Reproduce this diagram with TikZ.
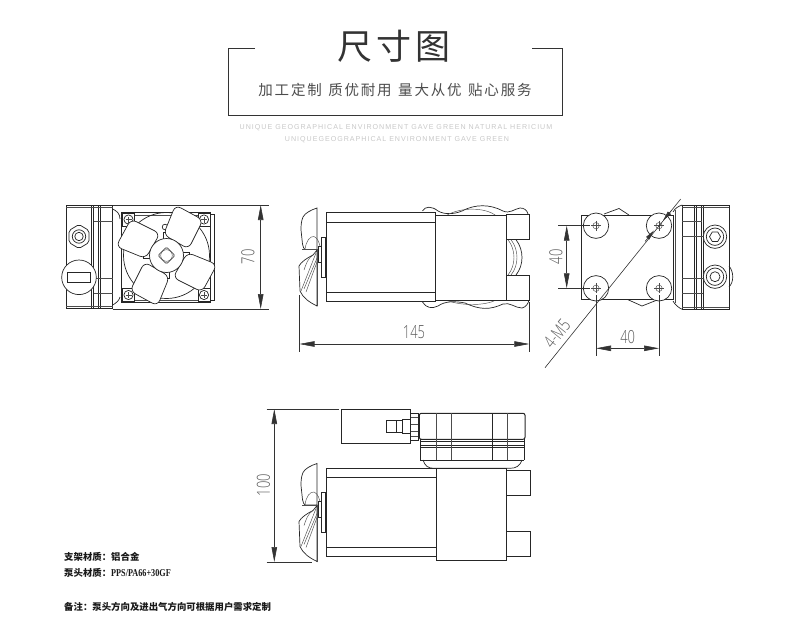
\documentclass[tikz,border=0pt]{standalone}
\usepackage{fontspec}
\usepackage{tikz}
\usetikzlibrary{arrows.meta}
\usetikzlibrary{calc}
\setmainfont{Liberation Sans}
\newfontfamily\cjk{Noto Sans CJK SC}
\newfontfamily\cjkwide[LetterSpace=12.5]{Noto Sans CJK SC}
\newfontfamily\notelatin{Liberation Serif}
\newfontfamily\greytext[LetterSpace=14]{Liberation Sans}
\newfontfamily\dimfont{Open Sans Light}
\newcommand{\dimtext}[1]{\scalebox{.72}[1]{\dimfont\fontsize{18}{18}\selectfont #1}}

\tikzset{
    partline/.style={draw=black!85, line width=0.7pt},
    thinline/.style={draw=black!70, line width=0.45pt},
    extline/.style={draw=black!80, line width=0.6pt},
    dimline/.style={draw=black!80, line width=0.6pt, {Triangle[length=15pt,width=5.5pt]}-{Triangle[length=15pt,width=5.5pt]}},
    dimlabel/.style={text=black!65, inner sep=0pt},
    noteline/.style={anchor=west, inner sep=0pt, text=black!90, font=\cjk\bfseries\fontsize{9.4}{10}\selectfont},
    fanside/.pic={
        \draw[partline, fill=white] (18,0) .. controls (12,2) and (6,5) .. (4,9) .. controls (2,14) and (2,18) .. (2,22) -- (3.5,36) .. controls (4,39) and (5,41) .. (6,41.5) -- (18,41.5) -- cycle;
        \draw[partline, fill=white] (18,98) .. controls (10,94) and (4,90) .. (1,83) -- (0,58) .. controls (2,54) and (8,50) .. (14,47) -- (18,42) -- cycle;
        \draw[thinline] (6,41.5) .. controls (7,33) and (11,28) .. (15,28.5) .. controls (19,30) and (21,36) .. (21.5,41.5);
        \draw[thinline] (3,41.5) -- (21.5,41.5);
        \draw[thinline] (21,43) -- (5,81) (17,45) -- (2,83) (18,54) -- (7,84) (14,47) .. controls (9,50) and (7,56) .. (5,62);
        \draw[thinline] (18,42) -- (18,98);
        \draw[partline, fill=white] (19,38) rectangle (22,54);
        \draw[partline, fill=white] (22,29) rectangle (26.5,69);
    }
}

\begin{document}
\begin{tikzpicture}[x=1pt, y=-1pt]
    \useasboundingbox (0,0) rectangle (790,642);

    % title
    \draw[draw=black!80, line width=0.8pt] (255,48) -- (228,48) -- (228,115.3) -- (562,115.3) -- (562,48) -- (532,48);
    \node[text=black!80, inner sep=0pt] (title) at (394,46) {\cjk\fontsize{35}{35}\selectfont 尺\hspace{4pt}寸\hspace{4pt}图};
    \node[text=black!70, inner sep=0pt] (subtitle) at (395,89.5) {\cjkwide\fontsize{14.5}{15}\selectfont 加工定制\hspace{6.5pt}质优耐用\hspace{6.5pt}量大从优\hspace{6.5pt}贴心服务};
    \node[text=black!22, inner sep=0pt] (slogan1) at (396,128) {\greytext\fontsize{7.1}{8}\selectfont UNIQUE GEOGRAPHICAL ENVIRONMENT GAVE GREEN NATURAL HERICIUM};
    \node[text=black!22, inner sep=0pt] (slogan2) at (397,140) {\greytext\fontsize{7.1}{8}\selectfont UNIQUEGEOGRAPHICAL ENVIRONMENT GAVE GREEN};

    % left view
    \draw[partline, line width=1pt] (66,205) rectangle (112.7,308.7);
    \draw[partline] (91.7,205) -- (91.7,308.7) (93.5,205) -- (93.5,308.7) (98.5,205) -- (98.5,308.7) (100.2,205) -- (100.2,308.7);
    \draw[thinline] (66,207) -- (112.7,207) (66,306.5) -- (112.7,306.5) (93.5,221.7) -- (112.7,221.7) (93.5,278) -- (112.7,278) (93.5,293) -- (112.7,293);
    \draw[partline] (112.7,209) .. controls (117,211) and (120,214) .. (120,219) (112.7,305) .. controls (116,303) and (119,301) .. (120,297);
    \draw[partline, fill=white, rounded corners=2pt] (79,224.5) -- (89,230.5) -- (89,242.5) -- (79,248.5) -- (69,242.5) -- (69,230.5) -- cycle;
    \draw[partline] (79,236.5) circle (6.7) (79,236.5) circle (4.2);
    \draw[partline, fill=white] (79,277.3) circle (17.3);
    \draw[partline] (67.3,272.7) rectangle (90.7,282.7);

    \draw[partline] (121.7,212.5) rectangle (210,302);
    \draw[partline] (210,214.7) -- (214.3,214.7) -- (214.3,300) -- (210,300);
    \draw[thinline] (124,215) -- (208,215) (124,300) -- (208,300);
    \draw[partline] (166.5,255.5) circle (43);
    \draw[partline] (165,227) circle (2.8);
    \foreach \screwx in {128.5,204} {
        \foreach \screwy in {219.5,295} {
            \draw[partline, fill=white] (\screwx-6,\screwy-6.5) rectangle (\screwx+6,\screwy+6.5);
            \draw[partline, fill=white] (\screwx,\screwy) circle (4.6);
            \draw[thinline] (\screwx-3,\screwy) -- (\screwx+3,\screwy) (\screwx,\screwy-3) -- (\screwx,\screwy+3);
        }
    }
    \foreach \ang in {0,90,180,270} {
        \begin{scope}[shift={(166.5,255.5)}, rotate=\ang]
            \draw[partline, fill=white] (-3,-15) rectangle (3,-23);
            \draw[partline, fill=white, rounded corners=6pt] (9,-50.5) -- (36.5,-35.5) -- (22,-6.5) -- (-3,-21) -- cycle;
        \end{scope}
    }
    \draw[partline, fill=white] (166.5,255.5) circle (17);
    \draw[partline, rounded corners=1.5pt] (166.5,247) -- (175,255.5) -- (166.5,264) -- (158,255.5) -- cycle;
    \draw[thinline] (166.5,255.5) circle (5.8);

    \coordinate (leftTop) at (260.7,205);
    \coordinate (leftBottom) at (260.7,309);
    \draw[extline] (112.7,205) -- (269,205) (112.7,309) -- (269,309);
    \draw[dimline] (leftTop) -- (leftBottom);
    \node[dimlabel, rotate=90] (dimSeventy) at (248,257) {\dimtext{70}};

    % middle view
    \pic at (299,208) {fanside};
    \draw[partline] (326,212.3) rectangle (435.3,301.7);
    \draw[partline] (326,222.3) -- (435.3,222.3) (326,292.3) -- (435.3,292.3);
    \draw[partline] (422.5,211) .. controls (425,206) and (432,206) .. (438,211) .. controls (445,215) and (455,214) .. (462,211) .. controls (475,204) and (490,204) .. (503,211) .. controls (510,214) and (514,209) .. (520,208) .. controls (524,208) and (527,210) .. (528,214);
    \draw[thinline] (446,215.7) .. controls (460,207) and (485,207) .. (496,215.7);
    \draw[partline] (422.5,302) .. controls (426,308) and (432,309) .. (438,306) .. controls (445,301) and (455,301) .. (465,303) .. controls (480,310) and (490,310) .. (503,304) .. controls (510,302) and (515,308) .. (522,308) .. controls (526,307) and (528,304) .. (529,300);
    \draw[thinline] (446,300) .. controls (460,306) and (485,306) .. (496,300);
    \draw[partline, fill=white] (435.3,215.7) rectangle (506.7,300);
    \draw[partline, fill=white] (506.7,214.3) rectangle (529.3,239.7);
    \draw[partline, fill=white] (506.7,275) rectangle (529.3,300);
    \draw[thinline] (508,239.7) .. controls (516,250) and (516,265) .. (508,275);
    \draw[thinline] (511,239.7) .. controls (519,250) and (519,265) .. (511,275);
    \draw[partline] (516,239.7) .. controls (524,250) and (524,265) .. (516,275);

    \coordinate (sideLeft) at (299.5,344);
    \coordinate (sideRight) at (529.3,344);
    \draw[extline] (299.5,295) -- (299.5,352) (529.3,302) -- (529.3,352);
    \draw[dimline] (sideLeft) -- (sideRight);
    \node[dimlabel] (dimLength) at (414,332) {\dimtext{145}};

    % right view
    \draw[partline] (604,214) -- (619,208.5) -- (629,215);
    \draw[partline] (628,299.7) -- (642,306) -- (658,299.7);
    \draw[partline] (581.7,215) rectangle (673,299.7);
    \draw[partline] (673,212) .. controls (675,208) and (679,206) .. (682.3,205) (673,301) .. controls (675,305) and (679,308) .. (682.3,309.3);
    \draw[thinline] (675.5,210) -- (675.5,303);
    \draw[partline, line width=1pt] (682.3,205) rectangle (729,309.3);
    \draw[partline] (694.3,205) -- (694.3,309.3) (696.7,205) -- (696.7,309.3) (701.7,205) -- (701.7,309.3) (703.3,205) -- (703.3,309.3);
    \draw[thinline] (682.3,207) -- (729,207) (682.3,307) -- (729,307) (682.3,221.5) -- (701.7,221.5) (682.3,236) -- (703.3,236) (682.3,278) -- (703.3,278) (682.3,293) -- (703.3,293);
    \draw[partline, fill=white] (715,236.7) circle (11.7) (715,236.7) circle (8.7);
    \draw[partline] (720.5,236.7) -- (717.7,241.5) -- (712.3,241.5) -- (709.5,236.7) -- (712.3,231.9) -- (717.7,231.9) -- cycle;
    \draw[partline, fill=white] (715,276.7) circle (11.7) (715,276.7) circle (8.7) (715,276.7) circle (5);
    \draw[partline] (729,266) .. controls (734,272) and (734,282) .. (729,287);
    \foreach \holex in {596,659} {
        \foreach \holey in {225.7,288.3} {
            \draw[partline, fill=white] (\holex,\holey) circle (12.7);
            \draw[thinline] (\holex,\holey) circle (3.2);
            \draw[thinline] (\holex-5,\holey) -- (\holex+5,\holey) (\holex,\holey-5) -- (\holex,\holey+5);
        }
    }

    \coordinate (holeTop) at (566.7,225.7);
    \coordinate (holeBottom) at (566.7,288.3);
    \draw[extline] (558,225.7) -- (590,225.7) (558,288.3) -- (590,288.3);
    \draw[dimline] (holeTop) -- (holeBottom);
    \node[dimlabel, rotate=90] (dimHeight) at (556,256.7) {\dimtext{40}};

    \coordinate (holeLeft) at (596,348.3);
    \coordinate (holeRight) at (659,348.3);
    \draw[extline] (596,295) -- (596,356) (659,295) -- (659,356);
    \draw[dimline] (holeLeft) -- (holeRight);
    \node[dimlabel] (dimWidth) at (627.7,337) {\dimtext{40}};

    \coordinate (leaderEnd) at (545,367.7);
    \coordinate (leaderTop) at (680.7,199);
    \draw[extline] (leaderEnd) -- (leaderTop);
    \draw[extline, -{Triangle[length=10pt,width=4pt]}] (671.7,210.2) -- (663,220.5);
    \draw[extline, -{Triangle[length=10pt,width=4pt]}] (645,241.5) -- (654,230.5);
    \node[dimlabel, rotate=51] (dimThread) at (557,333.5) {\dimtext{4-M5}};

    % lower view
    \pic at (299,463.5) {fanside};
    \draw[partline] (341.7,409) rectangle (410,443.3);
    \draw[partline, fill=white] (386.7,420.5) rectangle (396,432.7);
    \draw[partline, fill=white] (396,420.5) rectangle (402.5,432.7);
    \draw[partline, fill=white] (402.5,419.5) rectangle (410,433.5);
    \draw[partline] (410.7,413.3) rectangle (418.3,440);
    \draw[thinline] (410.7,417) -- (418.3,417) (410.7,424) -- (418.3,424) (410.7,431) -- (418.3,431) (410.7,436) -- (418.3,436);
    \draw[partline, line width=1pt, rounded corners=2pt] (419.3,413.3) -- (525,413.3) -- (525,439.3) -- (419.3,439.3) -- cycle;
    \draw[partline] (420,439.3) -- (420,460) (524,439.3) -- (524,460);
    \draw[partline] (420,441) -- (524,441) (420,445.7) -- (524,445.7) (420,447) -- (524,447);
    \draw[partline] (420,460) -- (524,460);
    \draw[partline] (423,460) .. controls (425,466) and (428,468.3) .. (434,468.3) -- (510,468.3) .. controls (516,468.3) and (520,466) .. (522,460);
    \draw[thinline] (436,413.3) -- (436,460) (451,413.3) -- (451,460) (507,413.3) -- (507,460);
    \draw[partline] (492.3,413.3) -- (492.3,460);

    \draw[partline] (326,468.3) rectangle (436,556.7);
    \draw[partline] (326,477.3) -- (436,477.3) (326,547) -- (436,547);
    \draw[partline, fill=white] (436,468.3) rectangle (506.7,560);
    \draw[partline] (506.7,470) rectangle (530,495.7);
    \draw[partline] (506.7,531) rectangle (530,556);

    \coordinate (totalTop) at (274.3,409);
    \coordinate (totalBottom) at (274.3,562);
    \draw[extline] (266.7,409) -- (339,409) (266.7,562) -- (311.7,562);
    \draw[dimline] (totalTop) -- (totalBottom);
    \node[dimlabel, rotate=90] (dimTotal) at (263.5,485) {\dimtext{100}};

    % notes
    \node[noteline] (noteFrame) at (64,556.5) {支架材质：铝合金};
    \node[noteline] (notePump) at (64,573) {泵头材质：\scalebox{.78}[1]{\notelatin\bfseries\fontsize{10.5}{11}\selectfont PPS/PA66+30GF}};
    \node[noteline] (noteExtra) at (64,606.5) {备注：泵头方向及进出气方向可根据用户需求定制};
\end{tikzpicture}
\end{document}
